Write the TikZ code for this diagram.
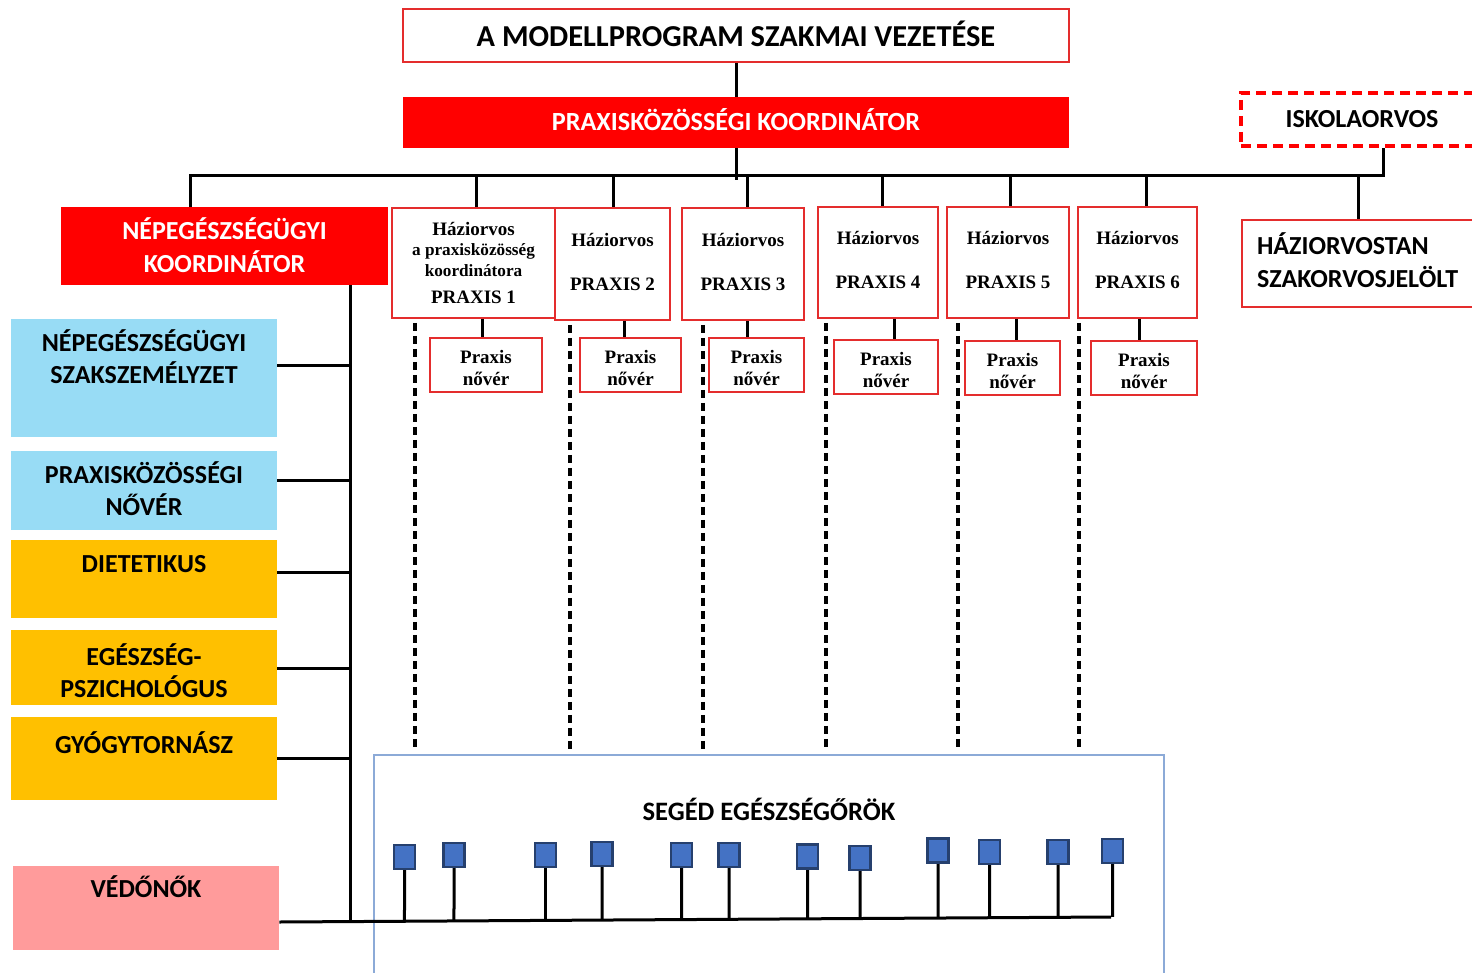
\documentclass[tikz,border=0pt]{standalone}
\usepackage{fontspec}
\setmainfont{Carlito}
\newfontfamily\tms{Liberation Serif}
\usetikzlibrary{calc}
\definecolor{cred}{RGB}{255,0,0}
\definecolor{bred}{RGB}{228,45,45}
\definecolor{lblue}{RGB}{152,220,245}
\definecolor{orng}{RGB}{255,192,0}
\definecolor{pnk}{RGB}{255,155,155}
\definecolor{sblue}{RGB}{140,170,215}
\definecolor{sqfill}{RGB}{68,114,196}
\definecolor{sqdraw}{RGB}{38,64,110}
\newcommand\tbox[4]{\parbox[c][#2][t]{#1}{\centering\rule{0pt}{#3}#4}}
\newcommand\dn[1]{\rule[-#1]{0pt}{#1}}
\begin{document}
\begin{tikzpicture}[x=0.5pt,y=-0.5pt,
  ln/.style={line width=1.5pt,black},
  dln/.style={line width=1.6pt,black,dash pattern=on 4pt off 2.5pt},
  redbox/.style={draw=bred,line width=0.8pt,fill=white,inner sep=0pt},
  fillbox/.style={inner sep=0pt,font=\bfseries\fontsize{13}{16.25}\selectfont},
  hbox/.style={redbox,font=\tms\bfseries\fontsize{9.5}{22}\selectfont,align=center},
  nbox/.style={redbox,font=\tms\bfseries\fontsize{9.5}{11}\selectfont,align=center,minimum height=27pt},
  sq/.style={draw=sqdraw,fill=sqfill,line width=1.2pt,minimum width=10.5pt,minimum height=12pt,inner sep=0pt},
]
\clip (0,0) rectangle (1472,973);
\fill[white] (0,0) rectangle (1472,973);

% top
\node[redbox,minimum width=333pt,minimum height=26.5pt,font=\bfseries\fontsize{15.2}{18}\selectfont] (top) at (736,35.5) {A MODELLPROGRAM SZAKMAI VEZETÉSE\dn{2pt}};
\node[fill=cred,text=white,inner sep=0pt,minimum width=333pt,minimum height=25.5pt,font=\bfseries\fontsize{13.1}{16}\selectfont] (koord) at (736,122.5) {PRAXISKÖZÖSSÉGI KOORDINÁTOR\dn{3pt}};
\node[draw=cred,line width=1.6pt,dash pattern=on 5pt off 3pt,inner sep=0pt,minimum width=121pt,minimum height=26.5pt,font=\bfseries\fontsize{13}{16}\selectfont] (iskola) at (1362,119.5) {ISKOLAORVOS};
\node[redbox,fillbox] (hazjel) at (1362.5,263.5) {\parbox[c][43.5pt][t]{120.5pt}{\raggedright\hspace*{7.5pt}\rule{0pt}{17.5pt}HÁZIORVOSTAN\\\hspace*{7.5pt}SZAKORVOSJELÖLT}};

% left column
\node[fillbox,fill=cred,text=white] (nepkoord) at (224.5,246) {\tbox{163.5pt}{39pt}{16.5pt}{NÉPEGÉSZSÉGÜGYI\\KOORDINÁTOR}};
\node[fillbox,fill=lblue] (szak) at (144,378) {\tbox{133pt}{59pt}{16pt}{NÉPEGÉSZSÉGÜGYI\\SZAKSZEMÉLYZET}};
\node[fillbox,fill=lblue] (pnurse) at (144,490.5) {\tbox{133pt}{39.5pt}{16.2pt}{PRAXISKÖZÖSSÉGI\\NŐVÉR}};
\node[fillbox,fill=orng] (diet) at (144,579) {\tbox{133pt}{39pt}{16pt}{DIETETIKUS}};
\node[fillbox,fill=orng] (egesz) at (144,667.5) {\tbox{133pt}{37.5pt}{17.7pt}{EGÉSZSÉG-\\PSZICHOLÓGUS}};
\node[fillbox,fill=orng] (gyogy) at (144,758.5) {\tbox{133pt}{41.5pt}{18.2pt}{GYÓGYTORNÁSZ}};
\node[fillbox,fill=pnk] (vedo) at (146,908) {\tbox{133pt}{42pt}{15.9pt}{VÉDŐNŐK}};

% practices
\node[redbox,font=\tms\bfseries\fontsize{9.5}{10.25}\selectfont,align=center,minimum width=81.5pt,minimum height=55pt] (P1) at (473.5,263) {Háziorvos\\{\fontsize{8.6}{10.25}\selectfont a praxisközösség}\\{\fontsize{8.6}{10.25}\selectfont koordinátora}\\[3.5pt]PRAXIS 1};
\node[hbox,minimum width=57.5pt,minimum height=56pt] (P2) at (612.5,264) {Háziorvos\\PRAXIS 2\dn{2pt}};
\node[hbox,minimum width=61pt,minimum height=56pt] (P3) at (743,264) {Háziorvos\\PRAXIS 3\dn{2pt}};
\node[hbox,minimum width=60pt,minimum height=55.5pt] (P4) at (878,262.5) {Háziorvos\\PRAXIS 4\dn{3pt}};
\node[hbox,minimum width=61pt,minimum height=55.5pt] (P5) at (1008,262.5) {Háziorvos\\PRAXIS 5\dn{3pt}};
\node[hbox,minimum width=59.5pt,minimum height=55.5pt] (P6) at (1137.5,262.5) {Háziorvos\\PRAXIS 6\dn{3pt}};

\node[nbox,minimum width=56pt] (N1) at (486,365) {\rule{0pt}{10pt}Praxis\\nővér};
\node[nbox,minimum width=50.5pt] (N2) at (630.5,365) {\rule{0pt}{10pt}Praxis\\nővér};
\node[nbox,minimum width=47.5pt] (N3) at (756.5,365) {\rule{0pt}{10pt}Praxis\\nővér};
\node[nbox,minimum width=52pt] (N4) at (886,367) {\rule{0pt}{10pt}Praxis\\nővér};
\node[nbox,minimum width=47.5pt] (N5) at (1012.5,368) {\rule{0pt}{10pt}Praxis\\nővér};
\node[nbox,minimum width=53pt] (N6) at (1144,368) {\rule{0pt}{10pt}Praxis\\nővér};

% seged box
\node[draw=sblue,line width=0.8pt,inner sep=0pt,font=\bfseries\fontsize{13.3}{16}\selectfont] (seged) at (769,872.5) {\tbox{395pt}{117.5pt}{32.7pt}{SEGÉD EGÉSZSÉGŐRÖK}};

% connectors
\draw[ln] (top.south) -- (koord.north);
\coordinate (bL) at (190,176);
\coordinate (bR) at (1383,176);
\draw[ln] (bL |- nepkoord.north) -- (bL) -- (bR) -- (bR |- iskola.south);
\draw[ln] (koord.south) -- ($(koord.south |- bL)+(0,4)$);
\foreach \n/\x in {P1/476,P2/613,P3/747,P4/882,P5/1010,P6/1146,hazjel/1358}{
  \coordinate (d\n) at (\x,176);
  \draw[ln] (d\n) -- (d\n |- \n.north);
}
\foreach \p/\q/\x in {P1/N1/482,P2/N2/624,P3/N3/747,P4/N4/894,P5/N5/1016,P6/N6/1139}{
  \coordinate (c\q) at (\x,0);
  \draw[ln] (c\q |- \p.south) -- (c\q |- \q.north);
}
\foreach \p/\x in {P1/415,P2/570,P3/703,P4/826,P5/958,P6/1079}{
  \coordinate (v\p) at (\x,0);
  \draw[dln] ($(v\p |- \p.south)+(0,4)$) -- ($(v\p |- seged.north)+(0,-3)$);
}
\coordinate (lv) at (350,0);
\coordinate (gL) at (279,922);
\coordinate (gR) at (1111,917);
\draw[ln] (lv |- nepkoord.south) -- (lv |- gL);
\draw[ln] (vedo.east |- gL) -- (gR);
\foreach \b/\y in {szak/365,pnurse/480,diet/572,egesz/668,gyogy/758}{
  \coordinate (h\b) at (352,\y);
  \draw[ln] (\b.east |- h\b) -- (h\b);
}

% squares
\foreach \i/\x/\y in {1/404.5/857,2/454/855,3/545.5/855,4/602/854,5/681.5/855,6/729/855,7/807.5/856.5,8/860/858,9/938/850.5,10/989.5/852,11/1058/852,12/1112.5/851}{
  \node[sq] (s\i) at (\x,\y) {};
  \pgfmathsetmacro\tt{(\x-279)/832}
  \draw[ln] (s\i.south) -- ($(gL)!\tt!(gR)$);
  \node[sq] at (s\i) {};
}
\end{tikzpicture}
\end{document}
